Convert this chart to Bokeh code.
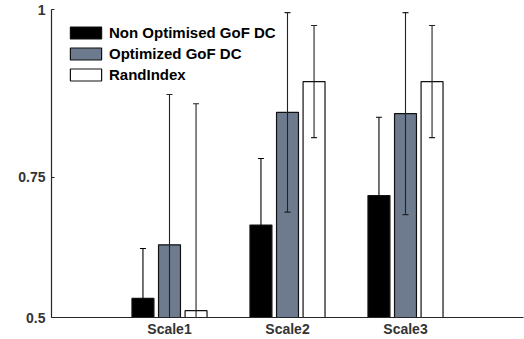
from bokeh.plotting import figure
from bokeh.models import ColumnDataSource, FactorRange, FixedTicker, Legend, LegendItem
from bokeh.transform import dodge
from bokeh.embed import file_html
from bokeh.resources import INLINE

categories = ["Scale1", "Scale2", "Scale3"]
non_opt = [0.531, 0.650, 0.698]
non_opt_err = [0.081, 0.108, 0.127]
opt = [0.618, 0.833, 0.831]
opt_err = [0.244, 0.162, 0.164]
rand_idx = [0.511, 0.883, 0.883]
rand_err = [0.336, 0.091, 0.091]
y_ticks = [0.5, 0.7273, 1.0]
y_tick_labels = {0.5: "0.5", 0.7273: "0.75", 1.0: "1"}

series = [
    ("Non Optimised GoF DC", non_opt, non_opt_err, "#000000", "#000000", -0.225),
    ("Optimized GoF DC", opt, opt_err, "#6E7B8F", "#222222", 0.0),
    ("RandIndex", rand_idx, rand_err, "#FFFFFF", "#222222", 0.225),
]

p = figure(x_range=FactorRange(*categories, range_padding=0.5, range_padding_units="absolute"),
           y_range=(0.5, 1.0), width=524, height=339, output_backend="svg",
           toolbar_location=None, min_border_left=51, min_border_right=1,
           min_border_top=9, min_border_bottom=22)
p.outline_line_color = None
p.xgrid.visible = False
p.ygrid.visible = False
p.background_fill_color = "white"
p.border_fill_color = "white"

items = []
for name, vals, errs, color, ecolor, off in series:
    src = ColumnDataSource(dict(x=categories, top=vals,
                                upper=[v + e for v, e in zip(vals, errs)],
                                lower=[v - e for v, e in zip(vals, errs)]))
    r = p.vbar(x=dodge("x", off, range=p.x_range), top="top", bottom=0.5, width=0.186,
               source=src, fill_color=color, line_color="#111111", line_width=1.2)
    items.append(LegendItem(label=name, renderers=[r]))
    p.segment(x0=dodge("x", off, range=p.x_range), x1=dodge("x", off, range=p.x_range),
              y0="lower", y1="upper", source=src, line_color=ecolor, line_width=1.1)
    p.scatter(x=dodge("x", off, range=p.x_range), y="upper", marker="dash", size=6,
              source=src, line_color=ecolor, line_width=1.1)
    p.scatter(x=dodge("x", off, range=p.x_range), y="lower", marker="dash", size=6,
              source=src, line_color=ecolor, line_width=1.1)

legend = Legend(items=items, location="top_left", glyph_width=39, glyph_height=15,
                spacing=4, padding=5, margin=10, label_standoff=4,
                label_text_font="Liberation Sans", label_text_font_style="bold",
                label_text_font_size="15px", label_text_color="#000000",
                border_line_alpha=0, background_fill_alpha=0, label_height=15)
p.add_layout(legend)

p.yaxis.ticker = FixedTicker(ticks=y_ticks)
p.yaxis.major_label_overrides = y_tick_labels
p.yaxis.minor_tick_line_color = None
p.yaxis.major_tick_in = 3
p.yaxis.major_tick_out = 0
p.yaxis.major_label_standoff = 6
for ax in (p.xaxis, p.yaxis):
    ax.axis_line_color = "#262626"
    ax.axis_line_width = 1.2
    ax.major_tick_line_color = "#262626"
    ax.major_label_text_font = "Liberation Sans"
    ax.major_label_text_font_style = "bold"
    ax.major_label_text_font_size = "14px"
    ax.major_label_text_color = "#333333"
p.xaxis.major_tick_in = 0
p.xaxis.major_tick_out = 0
p.xaxis.major_label_standoff = 3

open("out.html", "w").write(file_html(p, INLINE))
